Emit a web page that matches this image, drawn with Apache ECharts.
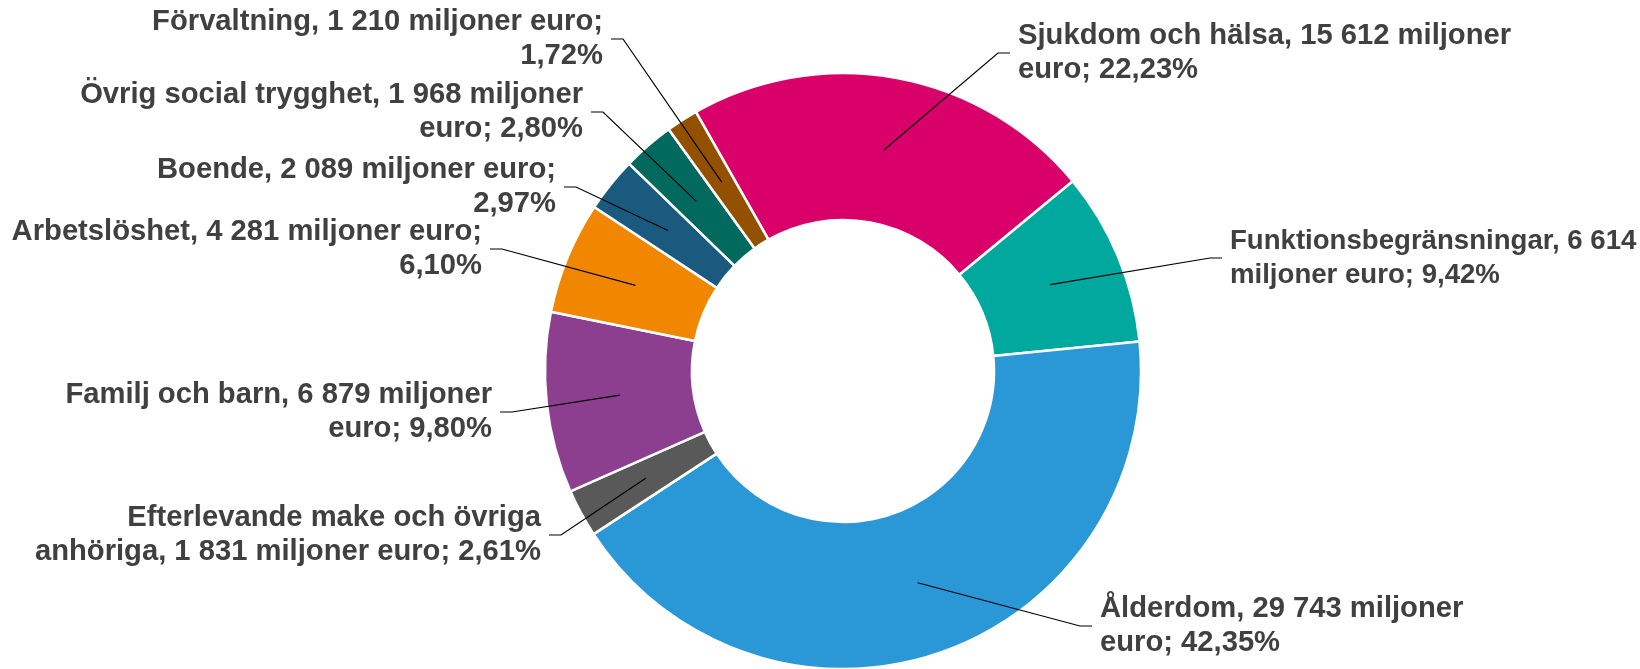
<!DOCTYPE html>
<html lang="sv">
<head>
<meta charset="utf-8">
<title>Sociala utgifter per funktion</title>
<script src="https://cdn.jsdelivr.net/npm/echarts@6/dist/echarts.min.js"></script>
<style>
  html, body { margin: 0; padding: 0; background: #fff; }
  #chart { width: 1640px; height: 669px; }
</style>
</head>
<body>
<div id="chart"></div>
<script>
// Data (miljoner euro), in ESSPROS order, clockwise from the pink slice
const categories = [
  "Sjukdom och hälsa",
  "Funktionsbegränsningar",
  "Ålderdom",
  "Efterlevande make och övriga anhöriga",
  "Familj och barn",
  "Arbetslöshet",
  "Boende",
  "Övrig social trygghet",
  "Förvaltning",
];
const values = [15612, 6614, 29743, 1831, 6879, 4281, 2089, 1968, 1210];
const colors = [
  "#D9006A", "#00A89D", "#2A98D6", "#595959", "#8B3F8E",
  "#F18700", "#1B5A7F", "#02695F", "#935100",
];
// how many words go on the first line of each label
const firstLineWords = [6, 3, 4, 4, 6, 5, 5, 6, 5];

// label layout: side of the pie, x of the text edge next to the leader, y of the label middle
const labelSide = ["right", "right", "right", "left", "left", "left", "left", "left", "left"];
const labelX = [1018, 1230, 1100, 541, 492, 482, 556, 583, 603];
const labelY = [53, 258, 626, 535, 412, 249, 187, 112, 39];
// the long label at the right edge is set a bit tighter so it fits
const labelFont = [29.2, 27.6, 29.2, 29.2, 29.2, 29.2, 29.2, 29.2, 29.2];

const fmtNum = (v) => String(v).replace(/\B(?=(\d{3})+(?!\d))/g, " ");
const fmtPct = (p) => p.toFixed(2).replace(".", ",") + "%";

const chart = echarts.init(document.getElementById("chart"), null, { renderer: "canvas" });

const pieData = categories.map((name, i) => ({ name, value: values[i] }));
const center = [843, 371];
const radius = [151, 298];
const startAngle = 119.6;

const option = {
  backgroundColor: "#fff",
  animation: false,
  color: colors,
  series: [
    {
      // the donut itself
      type: "pie",
      z: 2,
      center: center,
      radius: radius,
      startAngle: startAngle,
      clockwise: true,
      silent: true,
      itemStyle: { borderColor: "#fff", borderWidth: 2.5 },
      data: pieData,
      label: { show: false },
      labelLine: { show: false },
    },
    {
      // same slices, transparent, carrying labels and leader lines on top
      type: "pie",
      z: 3,
      center: center,
      radius: radius,
      startAngle: startAngle,
      clockwise: true,
      silent: true,
      avoidLabelOverlap: false,
      itemStyle: { color: "rgba(0,0,0,0)", borderWidth: 0 },
      data: pieData,
      label: {
        show: true,
        position: "outside",
        color: "#404040",
        fontFamily: "'Liberation Sans', Arial, sans-serif",
        fontWeight: "bold",
        fontSize: 29.2,
        lineHeight: 34,
        formatter: (p) => {
          const words = `${p.name}, ${fmtNum(p.value)} miljoner euro; ${fmtPct(p.percent)}`.split(" ");
          const k = firstLineWords[p.dataIndex];
          return words.slice(0, k).join(" ") + "\n" + words.slice(k).join(" ");
        },
      },
      labelLine: {
        show: true,
        smooth: false,
        lineStyle: { color: "#000", width: 1.2 },
      },
      labelLayout: (params) => {
        const i = params.dataIndex;
        const lay = chart.getModel().getSeriesByIndex(1).getData().getItemLayout(i);
        const mid = (lay.startAngle + lay.endAngle) / 2;
        const rMid = (lay.r + lay.r0) / 2;
        const sx = lay.cx + rMid * Math.cos(mid);
        const sy = lay.cy + rMid * Math.sin(mid);
        const left = labelSide[i] === "left";
        const x = labelX[i];
        const y = labelY[i];
        const ex = left ? x + 8 : x - 8;
        const hx = left ? ex + 12 : ex - 12;
        return {
          x: x,
          y: y,
          align: left ? "right" : "left",
          verticalAlign: "middle",
          fontSize: labelFont[i],
          labelLinePoints: [[sx, sy], [hx, y], [ex, y]],
        };
      },
    },
  ],
};

chart.setOption(option);
</script>
</body>
</html>
